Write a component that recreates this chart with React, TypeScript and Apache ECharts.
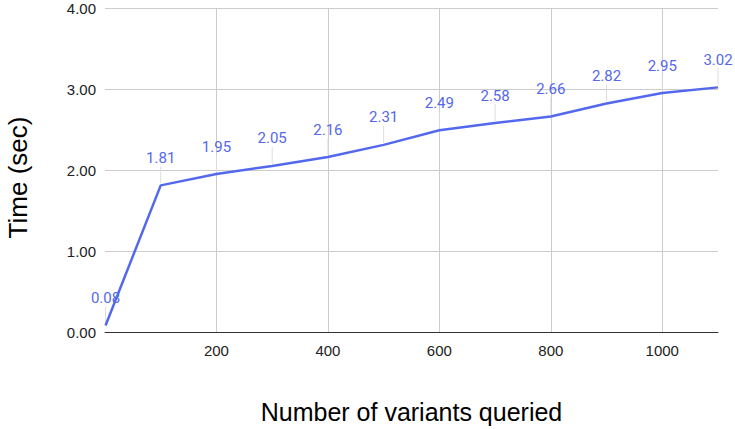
import React, { useEffect, useRef } from "react";
import * as echarts from "echarts";

const variants = [1, 100, 200, 300, 400, 500, 600, 700, 800, 900, 1000, 1100];
const times = [0.08, 1.81, 1.95, 2.05, 2.16, 2.31, 2.49, 2.58, 2.66, 2.82, 2.95, 3.02];
const xTitle = "Number of variants queried";
const yTitle = "Time (sec)";

const LINE_COLOR = "#5468EE";

export default function App() {
  const ref = useRef<HTMLDivElement>(null);
  useEffect(() => {
    const chart = echarts.init(ref.current!, null, { renderer: "svg" });
    const pts = variants.map((v, i) => [v, times[i]]);
    chart.setOption({
      animation: false,
      backgroundColor: "#ffffff",
      grid: {
        left: 105,
        right: 17,
        top: 8,
        bottom: 97,
        containLabel: false,
        outerBoundsMode: "none",
      },
      xAxis: {
        type: "value",
        min: 0,
        max: 1100,
        interval: 200,
        name: xTitle,
        nameLocation: "middle",
        nameGap: 67,
        nameTextStyle: { fontFamily: "Liberation Sans", fontSize: 25, color: "#000" },
        axisLine: { show: true, lineStyle: { color: "#333", width: 1 } },
        axisTick: { show: false },
        axisLabel: {
          showMinLabel: false,
          showMaxLabel: false,
          margin: 11,
          fontFamily: "Liberation Sans",
          fontSize: 15,
          color: "#222",
          formatter: (v: number) => String(v),
        },
        splitLine: {
          show: true,
          lineStyle: {
            color: ["rgba(0,0,0,0)", "#cccccc", "#cccccc", "#cccccc", "#cccccc", "#cccccc", "rgba(0,0,0,0)"],
            width: 1,
          },
        },
      },
      yAxis: {
        type: "value",
        min: 0,
        max: 4,
        interval: 1,
        name: yTitle,
        nameLocation: "middle",
        nameGap: 73,
        nameTextStyle: {
          fontFamily: "Liberation Sans",
          fontSize: 26,
          lineHeight: 29,
          color: "#000",
          padding: [0, 15, 0, 0],
        },
        axisLine: { show: false },
        axisTick: { show: false },
        axisLabel: {
          margin: 9,
          fontFamily: "Liberation Sans",
          fontSize: 15,
          color: "#222",
          formatter: (v: number) => v.toFixed(2),
        },
        splitLine: { show: true, lineStyle: { color: "#cccccc", width: 1 } },
      },
      series: [
        {
          type: "line",
          data: pts,
          showSymbol: false,
          symbol: "none",
          lineStyle: { color: LINE_COLOR, width: 2.5 },
          z: 3,
        },
        {
          type: "custom",
          data: pts,
          z: 2,
          renderItem: (params: any, api: any) => {
            const p = api.coord([api.value(0), api.value(1)]);
            const val = api.value(1) as number;
            return {
              type: "group",
              children: [
                {
                  type: "line",
                  shape: { x1: p[0], y1: p[1] - 2, x2: p[0], y2: p[1] - 19 },
                  style: { stroke: "#dddddd", lineWidth: 1 },
                },
                {
                  type: "text",
                  x: p[0],
                  y: p[1] - 20,
                  style: {
                    text: val.toFixed(2),
                    fill: LINE_COLOR,
                    font: "15px Roboto",
                    align: "center",
                    verticalAlign: "bottom",
                  },
                  z2: 10,
                },
              ],
            };
          },
        },
      ],
    });
    return () => chart.dispose();
  }, []);
  return <div ref={ref} style={{ width: 735, height: 429, position: "absolute", left: 0, top: 0 }} />;
}
